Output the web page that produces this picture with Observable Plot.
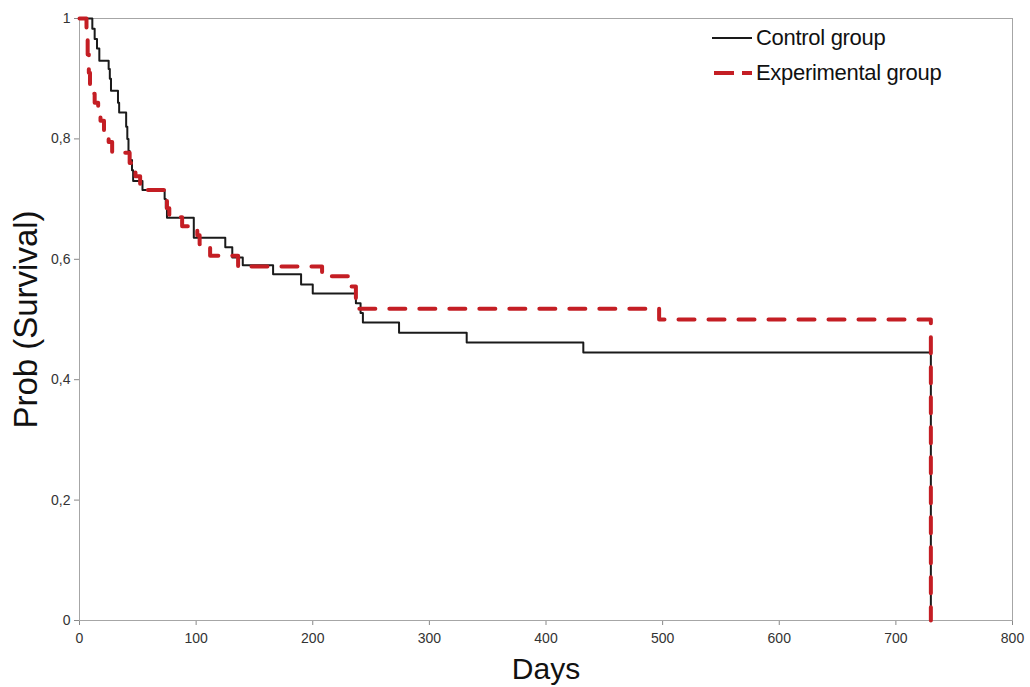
<!DOCTYPE html>
<html><head><meta charset="utf-8">
<script src="https://cdn.jsdelivr.net/npm/d3@7"></script>
<script src="https://cdn.jsdelivr.net/npm/@observablehq/plot@0.6"></script>
<style>
body{margin:0;background:#fff;}
#wrap{position:relative;width:1030px;height:687px;font-family:"Liberation Sans",Arial,sans-serif;}
#legend{position:absolute;left:712px;top:20px;font-size:22px;color:#111;font-family:"Liberation Sans",Arial,sans-serif;letter-spacing:-0.3px;}
#legend .row{display:flex;align-items:center;height:35px;}
#legend svg{margin-right:2px;}
</style></head><body><div id="wrap"></div>
<script>
const seriesNames = ["Control group", "Experimental group"];
const controlDays = [0, 11, 13, 15, 17, 25, 26, 27, 33, 34, 40, 41, 42, 43, 45, 46, 54, 73, 74, 75, 98, 125, 131, 140, 166, 190, 200, 237, 241, 243, 274, 332, 432, 730];
const controlSurv = [1.0, 0.983, 0.966, 0.95, 0.93, 0.916, 0.90, 0.88, 0.86, 0.844, 0.82, 0.80, 0.78, 0.765, 0.748, 0.73, 0.715, 0.70, 0.685, 0.669, 0.636, 0.62, 0.603, 0.59, 0.575, 0.558, 0.543, 0.527, 0.511, 0.495, 0.478, 0.462, 0.445, 0];
const expDays = [0, 6, 7, 8, 9, 10, 13, 16, 18, 21, 25, 28, 43, 45, 48, 52, 57, 73, 75, 77, 88, 101, 103, 112, 136, 208, 232, 237, 239, 497, 730];
const expSurv = [1.0, 0.97, 0.94, 0.91, 0.89, 0.875, 0.86, 0.845, 0.83, 0.81, 0.795, 0.777, 0.76, 0.745, 0.738, 0.725, 0.715, 0.70, 0.685, 0.67, 0.655, 0.64, 0.625, 0.606, 0.588, 0.572, 0.555, 0.535, 0.518, 0.50, 0];
const xTicks = [0, 100, 200, 300, 400, 500, 600, 700, 800];
const yTicks = [0, 0.2, 0.4, 0.6, 0.8, 1];

const control = controlDays.map((d, i) => ({day: d, surv: controlSurv[i]}));
const experimental = expDays.map((d, i) => ({day: d, surv: expSurv[i]}));

const chart = Plot.plot({
  width: 1030, height: 687,
  marginLeft: 79, marginRight: 18, marginTop: 18, marginBottom: 67,
  style: {fontFamily: "Liberation Sans, Arial, sans-serif", fontSize: "14px", color: "#333", background: "#fff"},
  x: {domain: [0, 800], ticks: xTicks, label: "Days", labelArrow: "none", labelAnchor: "center", labelOffset: 58, tickSize: 5, tickPadding: 8},
  y: {domain: [0, 1], ticks: yTicks, tickFormat: d => String(d).replace(".", ","), label: "Prob (Survival)", labelArrow: "none", labelAnchor: "center", labelOffset: 66, tickSize: 5, tickPadding: 4},
  marks: [
    Plot.frame({stroke: "#a6a6a6"}),
    Plot.line(control, {x: "day", y: "surv", curve: "step-after", stroke: "#1a1a1a", strokeWidth: 2}),
    Plot.line(experimental, {x: "day", y: "surv", curve: "step-after", stroke: "#c41e24", strokeWidth: 4, strokeDasharray: "16,14"})
  ]
});
d3.select(chart).select('g[aria-label="x-axis label"]').attr("font-size", 30).attr("fill", "#111");
d3.select(chart).select('g[aria-label="y-axis label"]').attr("font-size", 33).attr("fill", "#111");
d3.select(chart).selectAll('g[aria-label="x-axis tick"], g[aria-label="y-axis tick"]').attr("stroke", "#888");
const wrap = document.getElementById("wrap");
wrap.appendChild(chart);

const legend = document.createElement("div");
legend.id = "legend";
legend.innerHTML =
  `<div class="row"><svg width="42" height="10"><line x1="0" x2="40" y1="5" y2="5" stroke="#1a1a1a" stroke-width="2"/></svg><span>${seriesNames[0]}</span></div>` +
  `<div class="row"><svg width="42" height="10"><line x1="2" x2="40" y1="5" y2="5" stroke="#c41e24" stroke-width="4" stroke-dasharray="20,8"/></svg><span>${seriesNames[1]}</span></div>`;
wrap.appendChild(legend);
</script></body></html>
